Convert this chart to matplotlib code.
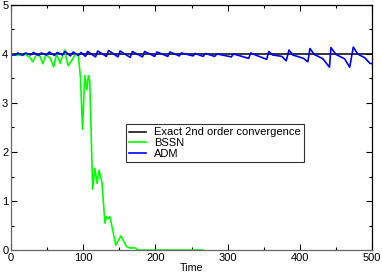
import numpy as np
import matplotlib
matplotlib.use("Agg")
import matplotlib.pyplot as plt
from matplotlib.ticker import MultipleLocator

plt.rcParams['font.family'] = ['Liberation Sans', 'DejaVu Sans']

# BSSN convergence factor
bssn_t = [0, 10, 20, 26, 30, 35, 40, 44, 48, 54, 59, 63, 68, 74, 79, 83, 89, 93,
          96, 99, 102, 105, 107, 109, 113, 116, 119, 122, 126, 130, 132, 135, 137,
          145, 152, 160, 165, 171, 176, 200, 230, 266]
bssn_v = [3.98, 3.97, 3.99, 3.93, 3.84, 3.98, 3.96, 3.80, 3.99, 3.92, 3.74, 4.00,
          3.81, 4.08, 3.76, 3.84, 3.99, 3.99, 3.54, 2.46, 3.56, 3.27, 3.56, 3.45,
          1.24, 1.67, 1.36, 1.63, 1.36, 0.55, 0.68, 0.65, 0.68, 0.10, 0.29, 0.07,
          0.04, 0.05, 0.0, 0.0, 0.0, 0.0]

# ADM convergence factor
adm_t = [0, 6, 9, 16, 20, 27, 31, 38, 42, 49, 53, 60, 64, 71, 75, 82, 86, 93, 97,
         103, 106, 117, 120, 132, 135, 148, 151, 165, 168, 182, 185, 199, 202,
         217, 220, 233, 236, 252, 255, 266, 269, 282, 285, 305, 308, 329, 332,
         340, 354, 357, 362, 375, 381, 385, 390, 405, 411, 414, 420, 432, 441,
         443, 450, 462, 469, 474, 480, 490, 497, 500]
adm_v = [3.98, 3.98, 4.02, 3.97, 4.02, 3.98, 4.03, 3.97, 4.02, 3.98, 4.04, 3.97,
         4.03, 3.98, 4.05, 3.96, 4.04, 3.97, 4.03,
         3.95, 4.05, 3.94, 4.06, 3.95, 4.07, 3.94, 4.06, 3.93, 4.05, 3.94, 4.05,
         3.95, 4.04, 3.95, 4.04, 3.96, 4.02, 3.96, 4.01, 3.95, 4.01, 3.95, 4.00,
         3.94, 4.00, 3.91, 4.02, 3.97, 3.89, 4.05, 3.98, 3.95, 3.86, 4.08, 3.98,
         3.91, 3.84, 4.11, 3.99, 3.90, 3.73, 4.13, 3.99, 3.90, 3.73, 4.14, 4.00,
         3.92, 3.81, 3.80]

exact_t = [0, 500]
exact_v = [4, 4]

fig = plt.figure(figsize=(3.82, 2.73), dpi=100)
ax = fig.add_axes([0.029, 0.084, 0.945, 0.898])

ax.plot(exact_t, exact_v, color='black', lw=1.1, label='Exact 2nd order convergence')
ax.plot(bssn_t, bssn_v, color='#00ff00', lw=1.2, label='BSSN')
ax.plot(adm_t, adm_v, color='#0000ff', lw=1.2, label='ADM')

ax.set_xlim(0, 500)
ax.set_ylim(0, 5)
ax.xaxis.set_major_locator(MultipleLocator(100))
ax.xaxis.set_minor_locator(MultipleLocator(50))
ax.yaxis.set_major_locator(MultipleLocator(1))
ax.yaxis.set_minor_locator(MultipleLocator(0.5))
ax.tick_params(which='both', direction='in', top=True, right=True, labelsize=8, pad=2)
ax.tick_params(which='major', length=4, width=0.8)
ax.tick_params(which='minor', length=2.5, width=0.8)
for s in ax.spines.values():
    s.set_linewidth(0.9)
ax.spines['left'].set_color('#666666')
ax.spines['bottom'].set_color('#666666')

ax.set_xlabel('Time', fontsize=7.7, labelpad=0)

leg = ax.legend(loc='upper left', bbox_to_anchor=(0.318, 0.514), fontsize=8,
                frameon=True, fancybox=False, edgecolor='black', borderpad=0.3,
                handlelength=1.5, handletextpad=0.75, labelspacing=0.05, borderaxespad=0)
leg.get_frame().set_linewidth(0.8)

fig.savefig('out.png', dpi=100)
